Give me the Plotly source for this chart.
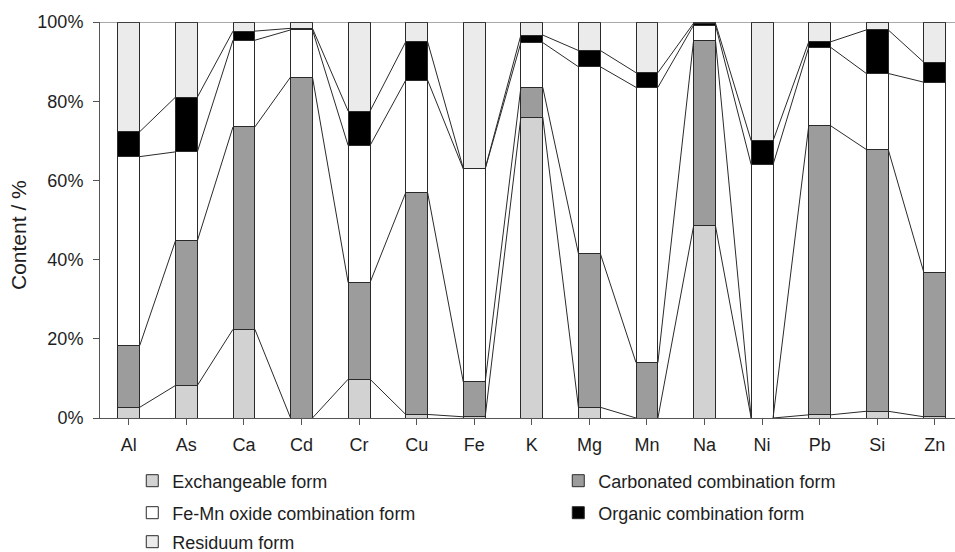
import plotly.graph_objects as go

elements = ["Al", "As", "Ca", "Cd", "Cr", "Cu", "Fe", "K", "Mg", "Mn", "Na", "Ni", "Pb", "Si", "Zn"]

exchangeable = [2.7, 8.2, 22.4, 0.0, 9.8, 0.9, 0.3, 76.0, 2.7, 0.0, 48.5, 0.0, 0.8, 1.7, 0.3]
carbonated   = [15.6, 36.5, 51.1, 86.1, 24.4, 56.0, 8.8, 7.5, 38.8, 14.0, 46.9, 0.0, 73.0, 66.1, 36.4]
femn_oxide   = [47.7, 22.5, 21.9, 11.9, 34.6, 28.4, 53.8, 11.3, 47.2, 69.5, 3.8, 64.0, 19.8, 19.2, 48.1]
organic      = [6.3, 13.8, 2.3, 0.4, 8.7, 9.7, 0.1, 1.9, 4.1, 3.7, 0.5, 6.0, 1.4, 11.0, 5.0]
residuum     = [27.7, 19.0, 2.3, 1.6, 22.5, 5.0, 37.0, 3.3, 7.2, 12.8, 0.3, 30.0, 5.0, 2.0, 10.2]

series_names = ["Exchangeable form", "Carbonated combination form",
                "Fe-Mn oxide combination form", "Organic combination form", "Residuum form"]
series_values = [exchangeable, carbonated, femn_oxide, organic, residuum]
series_colors = ["#d2d2d2", "#9c9c9c", "#ffffff", "#000000", "#ebebeb"]
legend_ids = ["legend", "legend", "legend2", "legend2", "legend3"]

y_ticks = [0, 20, 40, 60, 80, 100]
y_ticktext = ["0%", "20%", "40%", "60%", "80%", "100%"]

FONT = "Liberation Sans, Arial, sans-serif"
TEXT = "#1e1e1e"
EDGE = "#2a2a2a"
AXIS = "#555555"
BAR_W = 0.38

fig = go.Figure()

totals = [sum(v[i] for v in series_values) for i in range(len(elements))]
pct = [[v[i] / totals[i] * 100 for i in range(len(elements))] for v in series_values]

for name, vals, col, lg in zip(series_names, pct, series_colors, legend_ids):
    fig.add_trace(go.Bar(
        x=list(range(len(elements))), y=vals, name=name, width=BAR_W,
        marker=dict(color=col, line=dict(color=EDGE, width=1)),
        legend=lg, hoverinfo="skip"))

# series lines connecting the cumulative tops of each series
cum = [0.0] * len(elements)
for k in range(4):
    cum = [cum[i] + pct[k][i] for i in range(len(elements))]
    xs, ys = [], []
    for i in range(len(elements) - 1):
        xs += [i + BAR_W / 2, i + 1 - BAR_W / 2, None]
        ys += [cum[i], cum[i + 1], None]
    fig.add_trace(go.Scatter(x=xs, y=ys, mode="lines", showlegend=False,
                             line=dict(color=EDGE, width=1), hoverinfo="skip"))

fig.add_shape(type="line", xref="paper", yref="y", x0=0, x1=1, y0=100, y1=100,
              line=dict(color=AXIS, width=1))

fig.add_annotation(text="Content / %", xref="paper", yref="paper", x=0, y=0.5,
                   xanchor="center", yanchor="middle", xshift=-82, yshift=-15,
                   textangle=-90, showarrow=False, font=dict(size=21, color=TEXT))

leg_common = dict(orientation="h", xref="container", yref="container",
                  xanchor="left", yanchor="middle", traceorder="normal",
                  entrywidth=381, entrywidthmode="pixels", font=dict(size=18),
                  bgcolor="rgba(0,0,0,0)")

fig.update_layout(
    width=955, height=552,
    margin=dict(l=100, r=0, t=22, b=134),
    barmode="stack",
    plot_bgcolor="white", paper_bgcolor="white",
    font=dict(family=FONT, size=18, color=TEXT),
    xaxis=dict(
        range=[-0.5, 14.35], tickmode="array",
        tickvals=list(range(len(elements))), ticktext=elements,
        showline=True, linecolor=AXIS, linewidth=1,
        ticks="outside", ticklen=6, tickcolor=AXIS,
        showgrid=False, zeroline=False, ticklabelstandoff=4,
    ),
    yaxis=dict(
        range=[0, 100], tickvals=y_ticks, ticktext=y_ticktext,
        showline=True, linecolor=AXIS, linewidth=1,
        ticks="outside", ticklen=6, tickcolor=AXIS,
        showgrid=False, zeroline=False, ticklabelstandoff=6,
    ),
    legend=dict(x=0.1385, y=1 - 481 / 552, **leg_common),
    legend2=dict(x=0.1385, y=1 - 513 / 552, **leg_common),
    legend3=dict(x=0.1385, y=1 - 542 / 552, **leg_common),
)

fig.write_html("out.html", config={"displayModeBar": False},
               post_script="document.body.style.margin='0';")
